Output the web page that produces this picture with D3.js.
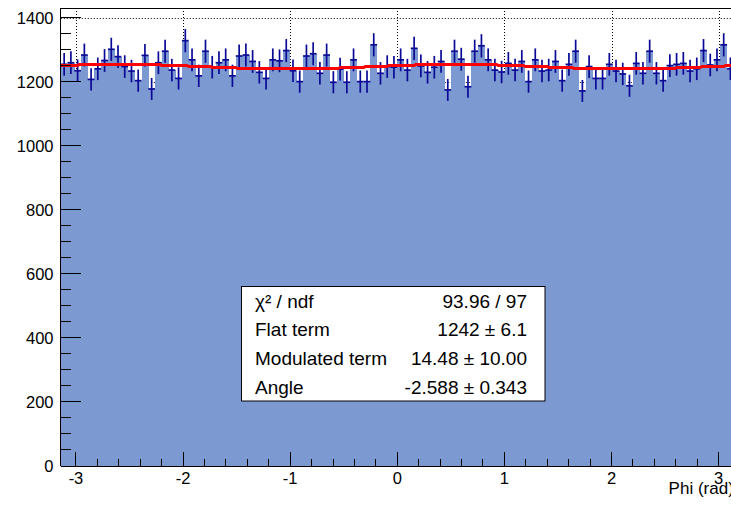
<!DOCTYPE html>
<html>
<head>
<meta charset="utf-8">
<script src="https://cdn.jsdelivr.net/npm/d3@7"></script>
<style>
  body { margin: 0; background: #fff; }
  svg { display: block; font-family: "Liberation Sans", Arial, Helvetica, sans-serif; }
</style>
</head>
<body>
<div id="chart"></div>
<script>
// bin contents, 100 bins from -pi to pi
var counts = [
  1255, 1260, 1235, 1284, 1208, 1241, 1267, 1302, 1279, 1248,
  1234, 1204, 1283, 1178, 1260, 1296, 1237, 1211, 1329, 1269,
  1219, 1296, 1246, 1260, 1269, 1219, 1281, 1284, 1264, 1230,
  1211, 1269, 1266, 1298, 1235, 1201, 1281, 1288, 1227, 1284,
  1199, 1240, 1199, 1269, 1201, 1201, 1316, 1227, 1248, 1246,
  1269, 1237, 1305, 1250, 1230, 1246, 1264, 1175, 1296, 1271,
  1185, 1296, 1313, 1269, 1237, 1231, 1258, 1237, 1264, 1201,
  1269, 1234, 1237, 1264, 1204, 1255, 1296, 1172, 1248, 1211,
  1211, 1255, 1234, 1225, 1188, 1258, 1227, 1296, 1227, 1204,
  1251, 1255, 1258, 1234, 1241, 1298, 1253, 1269, 1316, 1241
];
var xTicks = [-3, -2, -1, 0, 1, 2, 3];
var yTicks = [0, 200, 400, 600, 800, 1000, 1200, 1400];
// fit parameters: flat, modulated, angle
var fitParams = [1242, 14.48, -2.588];
var statsLabels = ["\u03c7\u00b2 / ndf", "Flat term", "Modulated term", "Angle"];
var statsValues = ["93.96 / 97", "1242 \u00b1 6.1", "14.48 \u00b1 10.00", "-2.588 \u00b1 0.343"];

var W = 731, H = 505;
var margin = { top: 8, left: 60.8, bottom: 466, right: 733.8 };
var yMax = 1431;

var svg = d3.select("#chart").append("svg").attr("width", W).attr("height", H);

var x = d3.scaleLinear().domain([-Math.PI, Math.PI]).range([margin.left, margin.right]);
var y = d3.scaleLinear().domain([0, yMax]).range([margin.bottom, margin.top]);
var nb = counts.length;
var bw = 2 * Math.PI / nb;
var bins = counts.map(function (c, i) {
  return { lo: -Math.PI + i * bw, hi: -Math.PI + (i + 1) * bw, v: c, e: Math.sqrt(c) };
});

// grid
var grid = svg.append("g").attr("stroke", "#000").attr("stroke-dasharray", "1,2").attr("stroke-width", 1);
grid.selectAll("line.gx").data(xTicks).join("line").attr("class", "gx")
  .attr("x1", function (d) { return Math.round(x(d)) + 0.5; }).attr("x2", function (d) { return Math.round(x(d)) + 0.5; })
  .attr("y1", margin.top).attr("y2", margin.bottom);
grid.selectAll("line.gy").data(yTicks).join("line").attr("class", "gy")
  .attr("x1", margin.left).attr("x2", margin.right)
  .attr("y1", function (d) { return Math.round(y(d)) + 0.5; }).attr("y2", function (d) { return Math.round(y(d)) + 0.5; });

// histogram fill
svg.append("g").selectAll("rect").data(bins).join("rect")
  .attr("x", function (d) { return x(d.lo); })
  .attr("width", function (d) { return x(d.hi) - x(d.lo) + 0.3; })
  .attr("y", function (d) { return y(d.v); })
  .attr("height", function (d) { return y(0) - y(d.v); })
  .attr("fill", "#7d99d1")
  .attr("shape-rendering", "crispEdges");

// error bars
var eb = svg.append("g").attr("stroke", "#0a0a96").attr("stroke-width", 1.7);
eb.selectAll("line.v").data(bins).join("line").attr("class", "v")
  .attr("x1", function (d) { return x((d.lo + d.hi) / 2); })
  .attr("x2", function (d) { return x((d.lo + d.hi) / 2); })
  .attr("y1", function (d) { return y(d.v - d.e); })
  .attr("y2", function (d) { return y(d.v + d.e); });
eb.selectAll("line.h").data(bins).join("line").attr("class", "h")
  .attr("x1", function (d) { return x(d.lo); })
  .attr("x2", function (d) { return x(d.hi); })
  .attr("y1", function (d) { return y(d.v); })
  .attr("y2", function (d) { return y(d.v); });

// fit function
function fitFn(phi) {
  var c = Math.cos(phi - fitParams[2]);
  return fitParams[0] + fitParams[1] * c * c;
}
var phis = d3.range(0, 401).map(function (i) { return -Math.PI + i * 2 * Math.PI / 400; });
svg.append("path").datum(phis)
  .attr("fill", "none").attr("stroke", "#ff0000").attr("stroke-width", 3)
  .attr("d", d3.line().x(function (d) { return x(d); }).y(function (d) { return Math.round(y(fitFn(d))) + 0.5; }));

// axes
var ax = svg.append("g").attr("stroke", "#000").attr("stroke-width", 1).attr("shape-rendering", "crispEdges");
ax.append("line").attr("x1", margin.left).attr("x2", margin.right).attr("y1", margin.bottom).attr("y2", margin.bottom);
ax.append("line").attr("x1", margin.left).attr("x2", margin.left).attr("y1", margin.top).attr("y2", margin.bottom);
ax.append("line").attr("x1", margin.left).attr("x2", margin.right).attr("y1", margin.top).attr("y2", margin.top);
ax.append("line").attr("x1", margin.right).attr("x2", margin.right).attr("y1", margin.top).attr("y2", margin.bottom);

var xMinor = d3.range(-15, 16).map(function (i) { return i / 5; }).filter(function (d) { return Math.abs(d) <= Math.PI; });
ax.selectAll("line.xt").data(xMinor).join("line").attr("class", "xt")
  .attr("x1", function (d) { return x(d); }).attr("x2", function (d) { return x(d); })
  .attr("y1", margin.bottom)
  .attr("y2", function (d) { return margin.bottom - (Math.abs(d - Math.round(d)) < 1e-6 ? 14 : 7); });
var yMinor = d3.range(0, yMax, 50);
ax.selectAll("line.yt").data(yMinor).join("line").attr("class", "yt")
  .attr("y1", function (d) { return y(d); }).attr("y2", function (d) { return y(d); })
  .attr("x1", margin.left)
  .attr("x2", function (d) { return margin.left + (d % 200 === 0 ? 20 : 10); });

svg.append("g").selectAll("text").data(xTicks).join("text")
  .attr("x", function (d) { return x(d); }).attr("y", 483.5)
  .attr("text-anchor", "middle").attr("font-size", 16.5).attr("fill", "#000")
  .text(function (d) { return d; });
svg.append("g").selectAll("text").data(yTicks).join("text")
  .attr("x", 53.5).attr("y", function (d) { return y(d) + 6; })
  .attr("text-anchor", "end").attr("font-size", 16.5).attr("fill", "#000")
  .text(function (d) { return d; });
svg.append("text").attr("x", margin.right).attr("y", 494)
  .attr("text-anchor", "end").attr("font-size", 17).text("Phi (rad)");

// stats box
var st = svg.append("g");
st.append("rect").attr("x", 241.5).attr("y", 286.5).attr("width", 303.5).attr("height", 114.5)
  .attr("fill", "#fff").attr("stroke", "#000").attr("stroke-width", 1);
var rowY = [307.5, 336, 364.5, 393.5];
st.selectAll("text.l").data(statsLabels).join("text").attr("class", "l")
  .attr("x", 255).attr("y", function (d, i) { return rowY[i]; })
  .attr("font-size", 19).text(function (d) { return d; });
st.selectAll("text.r").data(statsValues).join("text").attr("class", "r")
  .attr("x", 527).attr("y", function (d, i) { return rowY[i]; })
  .attr("text-anchor", "end").attr("font-size", 19).text(function (d) { return d; });
</script>
</body>
</html>
